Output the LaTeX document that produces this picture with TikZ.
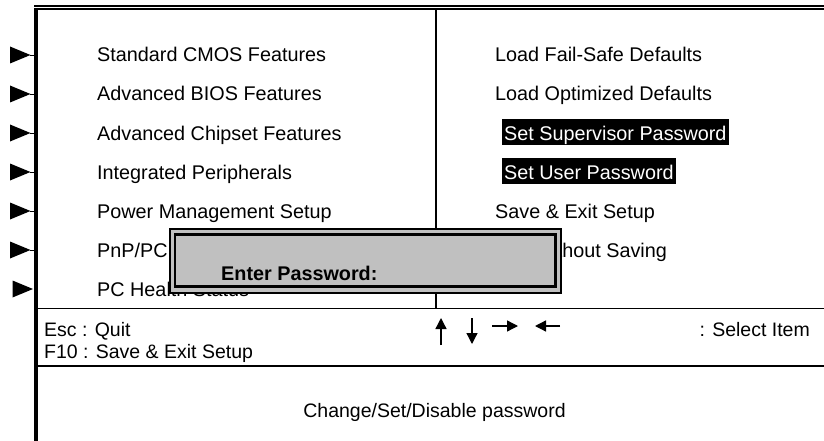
\documentclass[tikz,border=0pt]{standalone}
\usepackage{fontspec}
\setmainfont{Liberation Sans}
\usetikzlibrary{arrows.meta}
\definecolor{dlggray}{HTML}{C0C0C0}
\begin{document}
\begin{tikzpicture}[x=1pt,y=-1pt,
  menu/.style={anchor=base west,inner sep=0pt,font=\fontsize{19.8}{24}\selectfont},
  hilite/.style={menu,fill=black,text=white,inner xsep=2pt,inner ysep=0pt,text height=21pt,text depth=5pt},
  boldtxt/.style={menu,font=\fontsize{19.8}{24}\selectfont\bfseries},
  foot/.style={inner sep=0pt,font=\fontsize{19.5}{24}\selectfont},
  rule/.style={line width=1.5pt},
  keyarrow/.style={line width=1.3pt,-{Triangle[length=11pt,width=11pt]}}]
\useasboundingbox (0,0) rectangle (824,441);
% outer frame
\draw[line width=1.4pt] (34,6) -- (824,6);
\draw[line width=2.4pt] (34,9) -- (824,9);
\draw[line width=3.5pt] (35.75,7.8) -- (35.75,441);
% divider and rules
\draw[line width=1.7pt] (435.8,10) -- (435.8,308.5);
\draw[rule] (37,308.5) -- (824,308.5);
\draw[rule] (37,366) -- (824,366);
% pointers
\foreach \b in {62,101,140,179,218,257} {
  \fill (10,\b-15.5) -- (30.5,\b-7) -- (10,\b+1.5) -- cycle;
  \draw[line width=0.8pt] (30,\b-7) -- (34,\b-7);
}
\fill (12.5,296-15.5) -- (33,296-7) -- (12.5,296+1.5) -- cycle;
% left menu
\node[menu] (l1) at (97,62) {Standard CMOS Features};
\node[menu] (l2) at (97,101) {Advanced BIOS Features};
\node[menu] (l3) at (97,140) {Advanced Chipset Features};
\node[menu] (l4) at (97,179) {Integrated Peripherals};
\node[menu] (l5) at (97,218) {Power Management Setup};
\node[menu] (l6) at (97,257) {PnP/PCI Configurations};
\node[menu] (l7) at (97,296) {PC Health Status};
% right menu
\node[menu] (r1) at (495,62) {Load Fail-Safe Defaults};
\node[menu] (r2) at (495,101) {Load Optimized Defaults};
\node[hilite] (r3) at (502,140) {Set Supervisor Password};
\node[hilite] (r4) at (502,179) {Set User Password};
\node[menu] (r5) at (495,218) {Save \& Exit Setup};
\node[menu] (r6) at (495,257) {Exit Without Saving};
% password dialog
\draw[fill=dlggray,line width=1.8pt] (170,229) rectangle (561,293);
\draw[line width=2.8pt] (175,234.5) rectangle (555.5,286.5);
\node[boldtxt] (pw) at (221,280) {Enter Password:};
% key help
\node[foot,anchor=base west] (esc) at (44,336) {Esc : Quit};
\node[foot,anchor=base west] (f10) at (44,358) {F10 : Save \& Exit Setup};
\node[foot,anchor=base east] (sel) at (810,336) {: Select Item};
\coordinate (upA) at (441,345); \coordinate (upB) at (441,318);
\coordinate (dnA) at (472,318); \coordinate (dnB) at (472,344);
\coordinate (rtA) at (492,326); \coordinate (rtB) at (518,326);
\coordinate (ltA) at (560,326); \coordinate (ltB) at (535,326);
\draw[keyarrow] (upA) -- (upB);
\draw[keyarrow] (dnA) -- (dnB);
\draw[keyarrow] (rtA) -- (rtB);
\draw[keyarrow] (ltA) -- (ltB);
% description
\node[foot,anchor=base] (desc) at (434.5,417) {Change/Set/Disable password};
\end{tikzpicture}
\end{document}
